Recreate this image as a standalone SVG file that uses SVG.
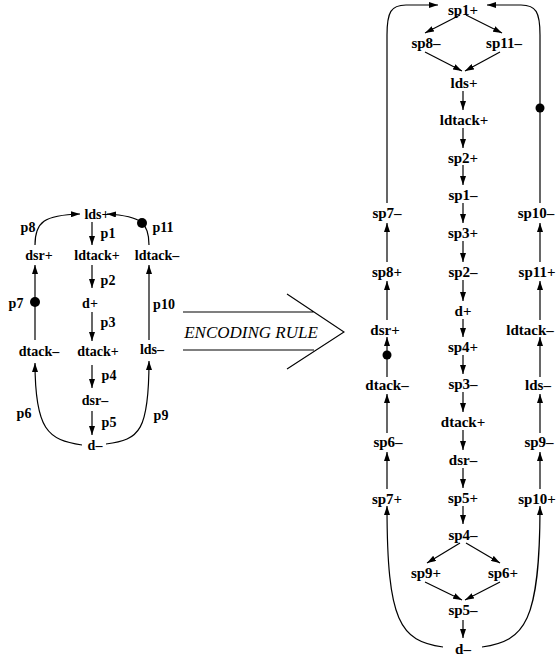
<svg xmlns="http://www.w3.org/2000/svg" width="556" height="660" viewBox="0 0 556 660">
<style>
  .n { font-family: "Liberation Serif", "Times New Roman", serif; font-weight: bold; text-anchor: middle; fill: #000; }
  .l { font-size: 14px; }
  .r { font-size: 15px; }
  .c { fill: none; stroke: #000; stroke-width: 1.2; }
  .a { marker-end: url(#ah); }
  .big { fill: none; stroke: #000; stroke-width: 1.1; }
  .rule { font-family: "Liberation Serif", "Times New Roman", serif; font-style: italic; font-size: 17px; text-anchor: middle; fill: #000; }
</style>
<defs>
  <marker id="ah" markerUnits="userSpaceOnUse" markerWidth="9" markerHeight="6" refX="9" refY="3" orient="auto">
    <path d="M0,0 L9,3 L0,6 z" fill="#000"/>
  </marker>
</defs>
<rect width="556" height="660" fill="#fff"/>

<!-- LEFT GRAPH connectors -->
<g id="left-connectors">
  <path class="c a" d="M92,222 L92,245"/>
  <path class="c a" d="M92,265 L92,288"/>
  <path class="c a" d="M92,312 L92,341"/>
  <path class="c a" d="M92,365 L92,388"/>
  <path class="c a" d="M92,411 L92,435"/>
  <path class="c a" d="M35,340 L35,265"/>
  <path class="c a" d="M149,340 L149,265"/>
  <path class="c a" d="M35,245 C35,222 44,215 80,214"/>
  <path class="c a" d="M149,245 C149,224 143,216 107,214"/>
  <path class="c a" d="M82,445 C48,440 35,430 35,363"/>
  <path class="c a" d="M106,444 C140,440 149,430 149,361"/>
</g>
<g id="left-tokens">
  <circle cx="35" cy="302" r="5"/>
  <circle cx="142" cy="223" r="5"/>
</g>
<g id="left-nodes">
  <g id="L-lds-plus"><text class="n l" x="97" y="219">lds+</text></g>
  <g id="L-ldtack-plus"><text class="n l" x="97" y="260">ldtack+</text></g>
  <g id="L-d-plus"><text class="n l" x="90" y="308">d+</text></g>
  <g id="L-dtack-plus"><text class="n l" x="98" y="356">dtack+</text></g>
  <g id="L-dsr-minus"><text class="n l" x="95" y="405">dsr–</text></g>
  <g id="L-d-minus"><text class="n l" x="95" y="450">d–</text></g>
  <g id="L-dsr-plus"><text class="n l" x="39" y="260">dsr+</text></g>
  <g id="L-dtack-minus"><text class="n l" x="39" y="356">dtack–</text></g>
  <g id="L-ldtack-minus"><text class="n l" x="157" y="260">ldtack–</text></g>
  <g id="L-lds-minus"><text class="n l" x="152" y="354">lds–</text></g>
</g>
<g id="left-place-labels">
  <text class="n l" x="108" y="238">p1</text>
  <text class="n l" x="108" y="285">p2</text>
  <text class="n l" x="108" y="327">p3</text>
  <text class="n l" x="109" y="380">p4</text>
  <text class="n l" x="109" y="427">p5</text>
  <text class="n l" x="24" y="418">p6</text>
  <text class="n l" x="16" y="308">p7</text>
  <text class="n l" x="28" y="232">p8</text>
  <text class="n l" x="161" y="420">p9</text>
  <text class="n l" x="164" y="309">p10</text>
  <text class="n l" x="163" y="232">p11</text>
</g>

<!-- BIG ARROW -->
<g id="encoding-rule">
  <path class="big" d="M183,312 L314,312 M183,350 L314,350 M287,294 L344,332 L287,369"/>
  <text class="rule" x="251" y="338">ENCODING RULE</text>
</g>

<!-- RIGHT GRAPH connectors -->
<g id="right-connectors">
  <path class="c a" d="M460,15 L425,33"/>
  <path class="c a" d="M466,15 L502,33"/>
  <path class="c a" d="M425,52 L462,71"/>
  <path class="c a" d="M500,52 L465,71"/>
  <path class="c a" d="M463,91 L463,110"/>
  <path class="c a" d="M463,128 L463,148"/>
  <path class="c a" d="M463,165 L463,185"/>
  <path class="c a" d="M463,203 L463,223"/>
  <path class="c a" d="M463,241 L463,262"/>
  <path class="c a" d="M463,280 L463,301"/>
  <path class="c a" d="M463,319 L463,337"/>
  <path class="c a" d="M463,355 L463,374"/>
  <path class="c a" d="M463,392 L463,412"/>
  <path class="c a" d="M463,430 L463,450"/>
  <path class="c a" d="M463,468 L463,488"/>
  <path class="c a" d="M463,506 L463,524"/>
  <path class="c a" d="M460,543 L427,563"/>
  <path class="c a" d="M466,543 L500,563"/>
  <path class="c a" d="M425,582 L462,600"/>
  <path class="c a" d="M500,582 L465,600"/>
  <path class="c a" d="M463,620 L463,638"/>
  <!-- left column -->
  <path class="c a" d="M387,489 L387,452"/>
  <path class="c a" d="M387,433 L387,394"/>
  <path class="c a" d="M387,377 L387,337"/>
  <path class="c a" d="M387,320 L387,281"/>
  <path class="c a" d="M387,262 L387,223"/>
  <!-- right column -->
  <path class="c a" d="M540,489 L540,452"/>
  <path class="c a" d="M540,433 L540,394"/>
  <path class="c a" d="M540,377 L540,337"/>
  <path class="c a" d="M540,320 L540,281"/>
  <path class="c a" d="M540,262 L540,223"/>
  <!-- loops -->
  <path class="c a" d="M387,203 L387,35 C387,12 391,5 406,5 L438,5"/>
  <path class="c a" d="M540,203 L540,35 C540,12 536,5 521,5 L487,5"/>
  <path class="c a" d="M443,647 C400,641 387,622 387,506"/>
  <path class="c a" d="M482,647 C525,641 540,622 540,506"/>
</g>
<g id="right-tokens">
  <circle cx="387" cy="355" r="4.5"/>
  <circle cx="540" cy="108" r="4.5"/>
</g>
<g id="right-nodes">
  <g id="sp1-plus"><text class="n r" x="463" y="15">sp1+</text></g>
  <g id="sp8-minus"><text class="n r" x="426" y="48">sp8–</text></g>
  <g id="sp11-minus"><text class="n r" x="504" y="48">sp11–</text></g>
  <g id="lds-plus"><text class="n r" x="464" y="88">lds+</text></g>
  <g id="ldtack-plus"><text class="n r" x="464" y="125">ldtack+</text></g>
  <g id="sp2-plus"><text class="n r" x="463" y="163">sp2+</text></g>
  <g id="sp1-minus"><text class="n r" x="463" y="200">sp1–</text></g>
  <g id="sp3-plus"><text class="n r" x="463" y="238">sp3+</text></g>
  <g id="sp2-minus"><text class="n r" x="463" y="277">sp2–</text></g>
  <g id="d-plus"><text class="n r" x="463" y="316">d+</text></g>
  <g id="sp4-plus"><text class="n r" x="463" y="352">sp4+</text></g>
  <g id="sp3-minus"><text class="n r" x="463" y="389">sp3–</text></g>
  <g id="dtack-plus"><text class="n r" x="463" y="427">dtack+</text></g>
  <g id="dsr-minus"><text class="n r" x="463" y="465">dsr–</text></g>
  <g id="sp5-plus"><text class="n r" x="463" y="503">sp5+</text></g>
  <g id="sp4-minus"><text class="n r" x="463" y="540">sp4–</text></g>
  <g id="sp9-plus"><text class="n r" x="426" y="578">sp9+</text></g>
  <g id="sp6-plus"><text class="n r" x="503" y="578">sp6+</text></g>
  <g id="sp5-minus"><text class="n r" x="463" y="615">sp5–</text></g>
  <g id="d-minus"><text class="n r" x="463" y="654">d–</text></g>
  <g id="sp7-minus"><text class="n r" x="387" y="218">sp7–</text></g>
  <g id="sp8-plus"><text class="n r" x="387" y="277">sp8+</text></g>
  <g id="dsr-plus"><text class="n r" x="385" y="335">dsr+</text></g>
  <g id="dtack-minus"><text class="n r" x="387" y="390">dtack–</text></g>
  <g id="sp6-minus"><text class="n r" x="388" y="447">sp6–</text></g>
  <g id="sp7-plus"><text class="n r" x="387" y="504">sp7+</text></g>
  <g id="sp10-minus"><text class="n r" x="536" y="218">sp10–</text></g>
  <g id="sp11-plus"><text class="n r" x="537" y="277">sp11+</text></g>
  <g id="ldtack-minus"><text class="n r" x="530" y="335">ldtack–</text></g>
  <g id="lds-minus"><text class="n r" x="538" y="390">lds–</text></g>
  <g id="sp9-minus"><text class="n r" x="539" y="447">sp9–</text></g>
  <g id="sp10-plus"><text class="n r" x="537" y="504">sp10+</text></g>
</g>
</svg>
